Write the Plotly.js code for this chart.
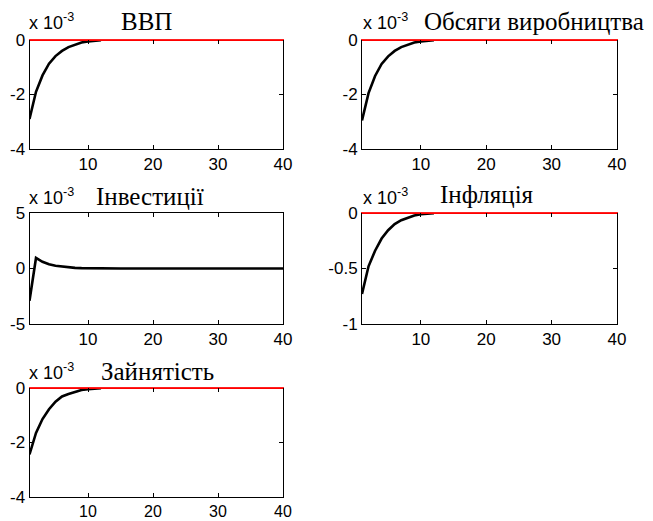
<!DOCTYPE html>
<html>
<head>
<meta charset="utf-8">
<script src="https://cdn.plot.ly/plotly-3.0.1.min.js"></script>
<style>html,body{margin:0;padding:0;background:#fff;}#chart{width:653px;height:521px;}</style>
</head>
<body>
<div id="chart"></div>
<script>
// Periods (quarters after shock)
const periods = [1,2,3,4,5,6,7,8,9,10,11,12,13,14,15,16,17,18,19,20,21,22,23,24,25,26,27,28,29,30,31,32,33,34,35,36,37,38,39,40];
const tickVals = [10,20,30,40];

// Panel titles
const titles = ["ВВП", "Обсяги виробництва", "Інвестиції", "Інфляція", "Зайнятість"];

// Impulse responses (x 10^-3); visible part of the black curves
const gdp        = [-2.90,-1.90,-1.30,-0.87,-0.59,-0.40,-0.26,-0.16,-0.09,-0.05,-0.02,-0.005];
const output     = [-2.95,-1.95,-1.32,-0.88,-0.60,-0.40,-0.26,-0.16,-0.09,-0.05,-0.02,-0.005];
const investment = [-2.90,0.95,0.60,0.38,0.25,0.17,0.12,0.06,0.03,0.015,0.01,0.005,0,0,0,0,0,0,0,0,0,0,0,0,0,0,0,0,0,0,0,0,0,0,0,0,0,0,0,0];
const inflation  = [-0.73,-0.48,-0.34,-0.23,-0.155,-0.10,-0.065,-0.04,-0.022,-0.012,-0.005,-0.001];
const employment = [-2.44,-1.65,-1.14,-0.78,-0.50,-0.31,-0.22,-0.14,-0.07,-0.04,-0.015,-0.003];

const series = [gdp, output, investment, inflation, employment];
const yRanges = [[-4,0],[-4,0],[-5,5],[-1,0],[-4,0]];
const yTicks  = [[-4,-2,0],[-4,-2,0],[-5,0,5],[-1,-0.5,0],[-4,-2,0]];
const yTickText = [["-4","-2","0"],["-4","-2","0"],["-5","0","5"],["-1","-0.5","0"],["-4","-2","0"]];
const zeroLevel = 0;
const showZeroLine = [true,true,false,true,true];

// Layout geometry (pixels)
const W = 653, H = 521;
const boxes = [
  {l:29.5, r:283, t:40, b:149},
  {l:362, r:617, t:40, b:149},
  {l:29.5, r:283, t:213, b:324},
  {l:362, r:617, t:213, b:324},
  {l:29.5, r:283, t:388, b:497}
];
const xTickSizes = [17,17,17,17,16];
const titlePos = [{x:146,y:22},{x:534,y:21},{x:150,y:196},{x:487,y:195},{x:157,y:371}];
const expoPos = [{x:27,y:22},{x:361,y:22},{x:27,y:196},{x:361,y:196},{x:27,y:371}];

const fam = "Liberation Sans, Arial, sans-serif";
const data = [];
const layout = {
  width:W, height:H, margin:{l:0,r:0,t:0,b:0},
  paper_bgcolor:"#fff", plot_bgcolor:"#fff",
  showlegend:false, annotations:[]
};

boxes.forEach((bx,i)=>{
  const n = i===0 ? "" : String(i+1);
  const xa = "x"+n, ya = "y"+n;
  const vals = series[i];
  data.push({
    x: periods.slice(0, vals.length), y: vals, xaxis: xa, yaxis: ya,
    mode:"lines", line:{color:"#000", width:2.6}, hoverinfo:"skip"
  });
  layout["xaxis"+n] = {
    domain:[bx.l/W, bx.r/W], anchor:ya, range:[periods[0], periods[periods.length-1]],
    tickvals:tickVals, ticktext:tickVals.map(String), ticks:"inside", ticklen:4, tickcolor:"#000",
    showline:true, linecolor:"#000", linewidth:1, mirror:"ticks",
    showgrid:false, zeroline:false, tickfont:{family:fam, size:xTickSizes[i], color:"#000"}, fixedrange:true
  };
  layout["yaxis"+n] = {
    domain:[1-bx.b/H, 1-bx.t/H], anchor:xa, range:yRanges[i],
    tickvals:yTicks[i], ticktext:yTickText[i], ticks:"inside", ticklen:4, tickcolor:"#000",
    showline:true, linecolor:"#000", linewidth:1, mirror:"ticks",
    showgrid:false, zeroline:false, tickfont:{family:fam, size:17, color:"#000"}, fixedrange:true
  };
  if (showZeroLine[i]) {
    // red zero line on an overlaid top axis so it is drawn over the frame
    const k = String(i+6);
    data.push({
      x: [periods[0], periods[periods.length-1]], y: [zeroLevel, zeroLevel], xaxis: "x"+k, yaxis: ya,
      mode:"lines", line:{color:"#ff0000", width:2}, hoverinfo:"skip"
    });
    layout["xaxis"+k] = {
      overlaying:xa, anchor:ya, side:"top", range:[periods[0], periods[periods.length-1]],
      showline:true, linecolor:"#ff2020", linewidth:1.5, ticks:"", showticklabels:false,
      showgrid:false, zeroline:false, fixedrange:true
    };
  }
  layout.annotations.push({
    text:titles[i], xref:"paper", yref:"paper", x:titlePos[i].x/W, y:1-titlePos[i].y/H,
    xanchor:"center", yanchor:"middle", showarrow:false,
    font:{family:"Liberation Serif, Times New Roman, serif", size:25, color:"#000"}
  });
  layout.annotations.push({
    text:"x 10<sup>-3</sup>", xref:"paper", yref:"paper", x:expoPos[i].x/W, y:1-expoPos[i].y/H,
    xanchor:"left", yanchor:"middle", showarrow:false,
    font:{family:fam, size:18, color:"#000"}
  });
});

Plotly.newPlot("chart", data, layout, {staticPlot:true, displayModeBar:false});
</script>
</body>
</html>
